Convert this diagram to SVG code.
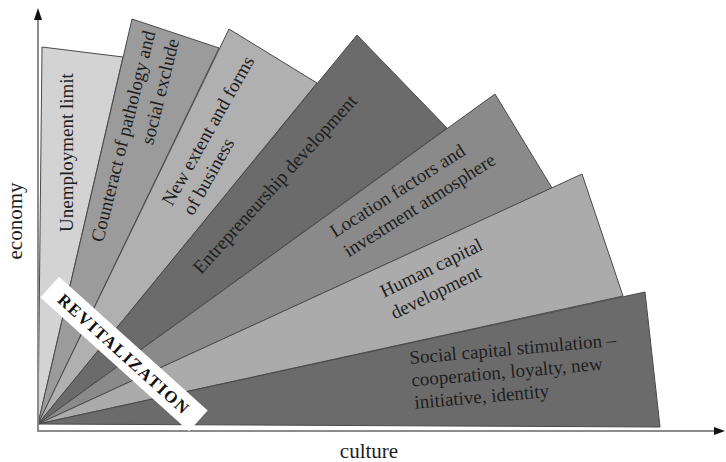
<svg xmlns="http://www.w3.org/2000/svg" width="726" height="462" viewBox="0 0 726 462">
<style>
.blade{stroke:#4a4a4a;stroke-width:1;stroke-linejoin:round}
.lbl{font-family:"Liberation Serif","Times New Roman",serif;font-size:19px;fill:#1e1e1e}
.ax{font-family:"Liberation Serif","Times New Roman",serif;font-size:21px;fill:#1e1e1e}
.axis{stroke:#8c8c8c;stroke-width:2;fill:none}
.head{fill:#111}
</style>
<rect width="726" height="462" fill="#fff"/>
<g id="blade1">
<polygon class="blade" fill="#d3d3d3" points="38,424 42,47 123,57"/>
<text class="lbl" transform="translate(73,232) rotate(-90)">Unemployment limit</text>
</g>
<g id="blade2">
<polygon class="blade" fill="#9b9b9b" points="38,424 132,19 219,48"/>
<g transform="translate(103,243) rotate(-76)">
<text class="lbl" x="0" y="0">Counteract of pathology and</text>
<text class="lbl" x="215" y="25" text-anchor="end">social exclude</text>
</g>
</g>
<g id="blade3">
<polygon class="blade" fill="#b0b0b0" points="38,424 229,29 317,83"/>
<g transform="translate(172,207) rotate(-60.5)">
<text class="lbl" x="0" y="0">New extent and forms</text>
<text class="lbl" x="2" y="23">of business</text>
</g>
</g>
<g id="blade4">
<polygon class="blade" fill="#6b6b6b" points="38,424 357,35 447,128"/>
<text class="lbl" transform="translate(201,275) rotate(-47.8)">Entrepreneurship development</text>
</g>
<g id="blade5">
<polygon class="blade" fill="#8a8a8a" points="38,424 495,94 552,188"/>
<g transform="translate(335,238) rotate(-32.5)">
<text class="lbl" x="0" y="0">Location factors and</text>
<text class="lbl" x="1" y="24">investment atmosphere</text>
</g>
</g>
<g id="blade6">
<polygon class="blade" fill="#ababab" points="38,424 582,174 623,296"/>
<g transform="translate(384,298) rotate(-26)">
<text class="lbl" x="0" y="0">Human capital</text>
<text class="lbl" x="0" y="24">development</text>
</g>
</g>
<g id="blade7">
<polygon class="blade" fill="#6b6b6b" points="38,424 645,292 660,427"/>
<g transform="translate(410,364) rotate(-5)">
<text class="lbl" x="0" y="0">Social capital stimulation –</text>
<text class="lbl" x="0" y="22.5">cooperation, loyalty, new</text>
<text class="lbl" x="1" y="45">initiative, identity</text>
</g>
</g>
<g id="axes">
<line class="axis" x1="38" y1="432" x2="38" y2="18"/>
<polygon class="head" points="38,8 34,20 42,20"/>
<line class="axis" x1="37" y1="431" x2="716" y2="431"/>
<polygon class="head" points="725,431 714,427 714,435"/>
<text class="ax" x="369" y="458" text-anchor="middle">culture</text>
<text class="ax" transform="translate(22,221) rotate(-90)" text-anchor="middle">economy</text>
</g>
<g id="revitalization">
<g transform="translate(124,354) rotate(42)">
<rect x="-100" y="-14" width="200" height="28" fill="#fff"/>
<text x="0" y="6" text-anchor="middle" font-family="'Liberation Serif','Times New Roman',serif" font-size="17" font-weight="bold" letter-spacing="1.6" fill="#111">REVITALIZATION</text>
</g>
</g>
</svg>
